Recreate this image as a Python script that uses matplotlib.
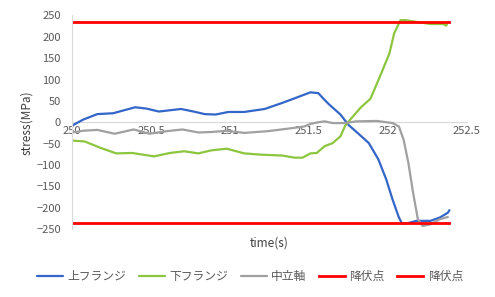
import matplotlib
matplotlib.use('Agg')
import matplotlib.pyplot as plt

plt.rcParams['font.family'] = ['Noto Sans CJK JP', 'DejaVu Sans']

# 上フランジ
upper_t = [250.00, 250.07, 250.16, 250.26, 250.32, 250.40, 250.47, 250.55, 250.62, 250.69,
           250.77, 250.84, 250.91, 250.99, 251.09, 251.22, 251.33, 251.41, 251.51, 251.56,
           251.60, 251.63, 251.70, 251.75, 251.82, 251.88, 251.94, 251.99, 252.03, 252.07,
           252.09, 252.12, 252.18, 252.27, 252.33, 252.38, 252.39]
upper_s = [-8, 6, 19, 21, 27, 35, 32, 25, 28, 31,
           25, 19, 18, 24, 24, 31, 45, 56, 70, 68,
           52, 41, 18, -6, -29, -49, -87, -134, -181, -223,
           -237, -237, -231, -231, -223, -212, -206]

# 下フランジ
lower_t = [250.00, 250.08, 250.18, 250.28, 250.38, 250.52, 250.62, 250.71, 250.80, 250.88,
           250.98, 251.09, 251.20, 251.33, 251.41, 251.46, 251.51, 251.55, 251.60, 251.65,
           251.70, 251.73, 251.78, 251.83, 251.89, 251.95, 252.01, 252.04, 252.08, 252.11,
           252.18, 252.27, 252.35, 252.37, 252.38]
lower_s = [-43, -45, -60, -73, -72, -80, -72, -68, -73, -66,
           -62, -73, -76, -78, -83, -83, -73, -72, -56, -49,
           -33, -8, 14, 35, 55, 107, 161, 208, 239, 239,
           235, 230, 230, 226, 234]

# 中立軸
neutral_t = [250.00, 250.07, 250.16, 250.27, 250.39, 250.49, 250.60, 250.70, 250.80, 250.88,
             250.98, 251.09, 251.24, 251.39, 251.47, 251.51, 251.56, 251.60, 251.65, 251.73,
             251.80, 251.93, 252.03, 252.07, 252.10, 252.13, 252.16, 252.19, 252.22, 252.27,
             252.33, 252.38]
neutral_s = [-24, -20, -18, -27, -17, -27, -21, -17, -24, -23,
             -20, -25, -21, -14, -10, -4, 0, 2, -2, -2,
             2, 3, -2, -10, -41, -95, -165, -227, -243, -239,
             -227, -222]

# 降伏点
yield_t = [250.0, 252.39]
yield_pos = [235, 235]
yield_neg = [-235, -235]

fig = plt.figure(figsize=(4.95, 2.97), dpi=100)
ax = fig.add_axes([0.1455, 0.229, 0.7975, 0.719])

kw = dict(lw=1.6, solid_joinstyle='round', solid_capstyle='round')
ax.plot(upper_t, upper_s, color='#3366c8', label='上フランジ', **kw)
ax.plot(lower_t, lower_s, color='#8cc63f', label='下フランジ', **kw)
ax.plot(neutral_t, neutral_s, color='#a0a0a0', label='中立軸', **kw)
ax.plot(yield_t, yield_pos, color='#ff0000', lw=2.0, label='降伏点')
ax.plot(yield_t, yield_neg, color='#ff0000', lw=2.0, label='降伏点')

ax.set_xlim(250, 252.5)
ax.set_ylim(-250, 250)
ax.set_xticks([250, 250.5, 251, 251.5, 252, 252.5])
ax.set_xticklabels(['250', '250.5', '251', '251.5', '252', '252.5'])
ax.set_yticks(range(-250, 251, 50))

for s in ['top', 'right']:
    ax.spines[s].set_visible(False)
ax.spines['bottom'].set_position(('data', 0))
ax.spines['bottom'].set_color('#d9d9d9')
ax.spines['left'].set_color('#d9d9d9')
ax.spines['bottom'].set_zorder(0)

ax.tick_params(axis='x', length=0, pad=3, labelsize=8, labelcolor='#595959')
ax.tick_params(axis='y', length=0, pad=8, labelsize=8, labelcolor='#595959')

ax.text(0.5, -0.035, 'time(s)', transform=ax.transAxes, ha='center', va='top',
        fontsize=8.5, color='#404040')
ax.set_ylabel('stress(MPa)', fontsize=8.5, color='#404040', labelpad=2)

fig.legend(loc='center', bbox_to_anchor=(0.505, 0.07), ncol=5, frameon=False,
           fontsize=8.5, handlelength=2.2, columnspacing=1.1, handletextpad=0.35,
           labelcolor='#595959')

fig.savefig('out.png', dpi=100)
